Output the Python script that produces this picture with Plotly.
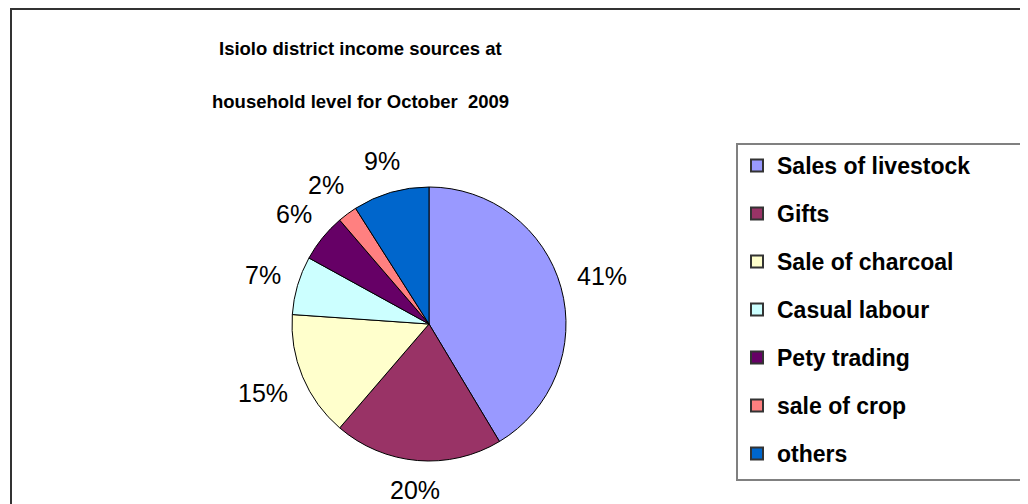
import math
import plotly.graph_objects as go

# page body has an 8px margin: figure is placed at (8, 8) in the 1028x504 window
OFF = 8
W, H = 1028 - OFF, 504 - OFF

categories = ["Sales of livestock", "Gifts", "Sale of charcoal", "Casual labour",
              "Pety trading", "sale of crop", "others"]
values = [41.4, 19.9, 14.8, 6.9, 5.7, 2.3, 9.0]   # shares (labels 41,20,15,7,6,2,9 %)
colors = ["#9999FF", "#993366", "#FFFFCC", "#CCFFFF", "#660066", "#FF8080", "#0066CC"]
title_lines = ["Isiolo district income sources at", "household level for October  2009"]

FONT = "Liberation Sans, Arial, sans-serif"
LABEL_SIZE = 25


def px(x):
    return (x - OFF) / W


def py(y):
    return 1 - (y - OFF) / H


cx, cy, R = 429, 324, 137   # pie centre and radius in window pixels

fig = go.Figure()

fig.add_trace(go.Pie(
    labels=categories, values=values, sort=False, direction="clockwise", rotation=0,
    domain=dict(x=[px(cx - R), px(cx + R)], y=[py(cy + R), py(cy - R)]),
    marker=dict(colors=colors, line=dict(color="black", width=1)),
    textinfo="none", showlegend=False,
))

# legend entries (one trace per entry so the spacing can be set)
for i, (c, col) in enumerate(zip(categories, colors)):
    fig.add_trace(go.Scatter(
        x=[None], y=[None], mode="markers", name=f"<b>{c}</b>", legendgroup=f"g{i}",
        marker=dict(symbol="square", size=15, color=col, line=dict(color="#333333", width=1)),
    ))

annotations = []
for i, t in enumerate(title_lines):
    annotations.append(dict(
        text=f"<b>{t}</b>", x=px(360), y=py(48 + 53 * i), xref="paper", yref="paper",
        showarrow=False, xanchor="center", yanchor="middle",
        font=dict(family=FONT, size=18.5, color="black"),
    ))

# percentage labels placed outside each slice's mid angle
total = sum(values)
cum = 0
gap = 152
for v in values:
    mid = (cum + v / 2) / total * 2 * math.pi
    cum += v
    s, c = math.sin(mid), math.cos(mid)
    txt = f"{round(100 * v / total)}%"
    hw = (0.556 * (len(txt) - 1) + 0.889) * LABEL_SIZE / 2
    hh = 13
    d = gap + abs(s) * hw + abs(c) * hh
    lx, ly = cx + s * d, cy - c * d
    annotations.append(dict(
        text=txt, x=px(lx), y=py(ly), xref="paper", yref="paper", showarrow=False,
        xanchor="center", yanchor="middle",
        font=dict(family=FONT, size=LABEL_SIZE, color="black"),
    ))

fig.update_layout(
    width=W, height=H, margin=dict(l=0, r=0, t=0, b=0),
    paper_bgcolor="white", plot_bgcolor="white",
    xaxis=dict(visible=False), yaxis=dict(visible=False),
    annotations=annotations,
    legend=dict(
        x=px(737), y=py(144), xanchor="left", yanchor="top",
        bgcolor="rgba(0,0,0,0)", borderwidth=0,
        font=dict(family=FONT, size=23, color="black"),
        tracegroupgap=15.1, itemsizing="constant",
    ),
    shapes=[
        dict(type="rect", xref="paper", yref="paper", x0=px(11), x1=1.02, y0=-0.02, y1=py(9),
             line=dict(color="#333333", width=2), fillcolor="rgba(0,0,0,0)", layer="below"),
        dict(type="rect", xref="paper", yref="paper", x0=px(737), x1=1.02, y0=py(480), y1=py(144),
             line=dict(color="#808080", width=2), fillcolor="white", layer="below"),
    ],
)

fig.write_html("out.html")
